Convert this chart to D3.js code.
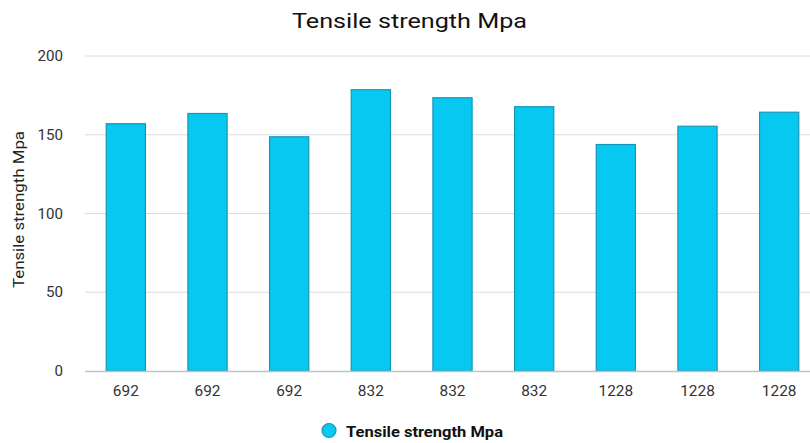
<!DOCTYPE html>
<html><head><meta charset="utf-8">
<script src="https://cdn.jsdelivr.net/npm/d3@7"></script>
<style>body{margin:0;background:#fff;font-family:Roboto,"Noto Sans",sans-serif;}</style>
</head><body><svg id="c" width="810" height="443"></svg>
<script>
const categories = ["692","692","692","832","832","832","1228","1228","1228"];
const values = [157, 163.5, 148.7, 178.6, 173.5, 167.8, 143.8, 155.4, 164.3];
const yTicks = [0, 50, 100, 150, 200];
const title = "Tensile strength Mpa";
const seriesName = "Tensile strength Mpa";
const yTitle = "Tensile strength Mpa";

(function(){
const svg = d3.select("#c");
const pLeft = 85, pRight = 820, pTop = 56, pBottom = 371;
const x = d3.scaleBand().domain(d3.range(categories.length)).range([pLeft, pRight]).paddingInner(0.52).paddingOuter(0.26);
const y = d3.scaleLinear().domain([0, 200]).range([pBottom, pTop]);

svg.append("g").selectAll("line").data(yTicks.filter(d=>d>0)).join("line")
  .attr("x1", pLeft).attr("x2", 810).attr("y1", d=>y(d)).attr("y2", d=>y(d))
  .attr("stroke", "#dcdcdc").attr("stroke-width", 1);

svg.append("g").selectAll("text").data(yTicks).join("text")
  .attr("transform", d=>`translate(63,${y(d)+5}) scale(1.08,1)`).attr("text-anchor","end")
  .attr("font-size", 14).attr("fill", "#333").text(d=>d);

svg.append("g").selectAll("rect").data(values).join("rect")
  .attr("x", (d,i)=>x(i)).attr("width", x.bandwidth())
  .attr("y", d=>y(d)).attr("height", d=>pBottom - y(d))
  .attr("fill", "#06c8f1").attr("stroke", "#1896b6").attr("stroke-width", 1.2);

svg.append("line").attr("x1", pLeft).attr("x2", 810).attr("y1", pBottom+0.5).attr("y2", pBottom+0.5)
  .attr("stroke", "#bfc3cc").attr("stroke-width", 1.5);

svg.append("g").selectAll("text").data(categories).join("text")
  .attr("transform", (d,i)=>`translate(${x(i)+x.bandwidth()/2},396) scale(1.1,1)`).attr("text-anchor","middle")
  .attr("font-size", 14).attr("fill", "#333").text(d=>d);

svg.append("text").attr("x", 292).attr("y", 28)
  .attr("textLength", 235).attr("lengthAdjust", "spacingAndGlyphs")
  .attr("font-size", 21).attr("fill", "#111").text(title);

svg.append("text").attr("transform", "translate(24,288) rotate(-90)")
  .attr("textLength", 157).attr("lengthAdjust", "spacingAndGlyphs")
  .attr("font-size", 14).attr("fill", "#222").text(yTitle);

svg.append("circle").attr("cx", 329).attr("cy", 430.5).attr("r", 7)
  .attr("fill", "#06c8f1").attr("stroke", "#1896b6").attr("stroke-width", 1.2);
svg.append("text").attr("x", 346).attr("y", 437)
  .attr("textLength", 157).attr("lengthAdjust", "spacingAndGlyphs")
  .attr("font-size", 15).attr("font-weight", "bold")
  .attr("fill", "#111").text(seriesName);
})();
</script></body></html>
